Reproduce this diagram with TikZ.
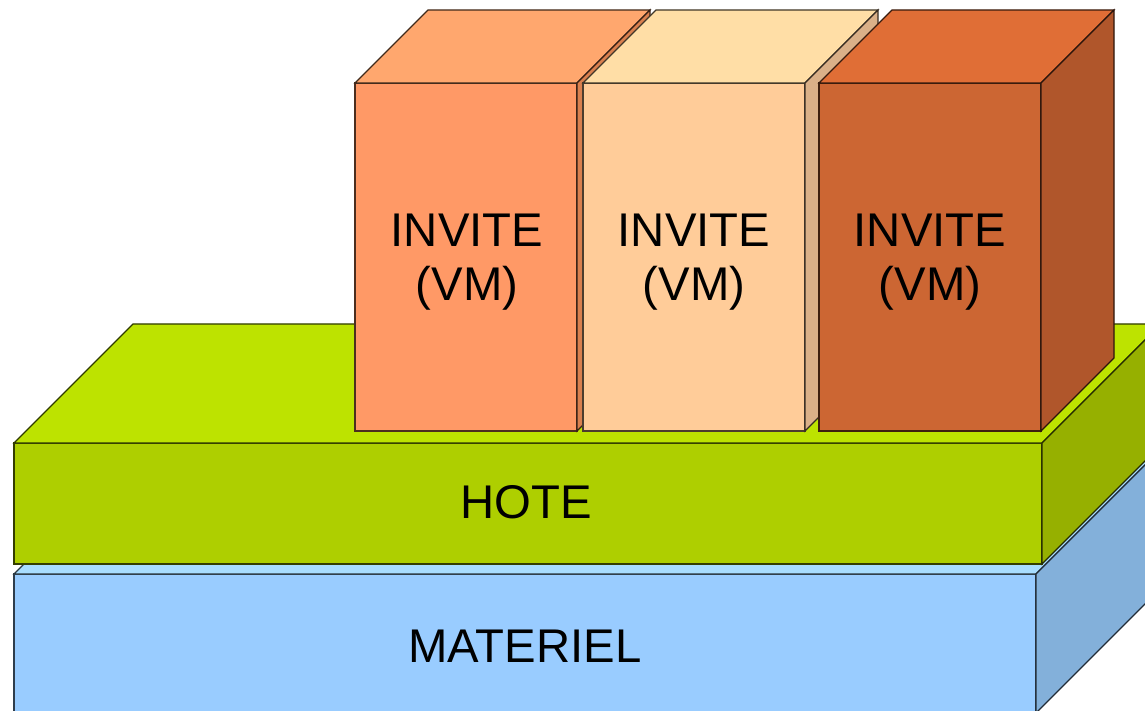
\documentclass[tikz,border=0pt]{standalone}
\usepackage{fontspec}
\setmainfont{Liberation Sans}
\definecolor{vmAfront}{HTML}{FF9966}
\definecolor{vmAtop}{HTML}{FFA76E}
\definecolor{vmAside}{HTML}{D9804F}
\definecolor{vmBfront}{HTML}{FFCC99}
\definecolor{vmBtop}{HTML}{FFDEA6}
\definecolor{vmBside}{HTML}{DAB088}
\definecolor{vmCfront}{HTML}{CC6633}
\definecolor{vmCtop}{HTML}{E06E36}
\definecolor{vmCside}{HTML}{B0562B}
\definecolor{hfront}{HTML}{AECF00}
\definecolor{htop}{HTML}{BDE300}
\definecolor{hside}{HTML}{96B000}
\definecolor{mfront}{HTML}{99CCFF}
\definecolor{mtop}{HTML}{A8DDFF}
\definecolor{mside}{HTML}{83B0DA}
\tikzset{
  face/.style={line width=1.2pt, line join=miter},
  lbl/.style={font=\fontsize{47.3}{54}\selectfont, inner sep=0pt, anchor=base, text=black}
}
% #1 x, #2 y (bottom), #3 width, #4 height, #5 depth, #6 front, #7 top, #8 side
\newcommand\drawcube[8]{%
  \draw[face, fill=#6, draw=#6!30!black] (#1,#2) rectangle ({#1+#3},{#2+#4});
  \draw[face, fill=#7, draw=#7!25!black] (#1,{#2+#4}) -- ({#1+#5},{#2+#4+#5}) -- ({#1+#3+#5},{#2+#4+#5}) -- ({#1+#3},{#2+#4}) -- cycle;
  \draw[face, fill=#8, draw=#8!25!black] ({#1+#3},#2) -- ({#1+#3+#5},{#2+#5}) -- ({#1+#3+#5},{#2+#4+#5}) -- ({#1+#3},{#2+#4}) -- cycle;
}
\begin{document}
\begin{tikzpicture}[x=1pt,y=1pt]
\useasboundingbox (0,0) rectangle (1145,710);
\clip (0,0) rectangle (1145,710);
% MATERIEL
\drawcube{14}{-3}{1022}{139}{119}{mfront}{mtop}{mside}
% HOTE
\drawcube{14}{146}{1028}{121}{119}{hfront}{htop}{hside}
% VMs
\drawcube{355}{279}{222}{348}{73}{vmAfront}{vmAtop}{vmAside}
\drawcube{583}{279}{222}{348}{73}{vmBfront}{vmBtop}{vmBside}
\drawcube{819}{279}{222}{348}{73}{vmCfront}{vmCtop}{vmCside}
% labels
\node[lbl] (vmAa) at (467,463) {INVITE};
\node[lbl] (vmAb) at (467,409) {(VM)};
\node[lbl] (vmBa) at (694,463) {INVITE};
\node[lbl] (vmBb) at (694,409) {(VM)};
\node[lbl] (vmCa) at (930,463) {INVITE};
\node[lbl] (vmCb) at (930,409) {(VM)};
\node[lbl] (hote) at (526,192) {HOTE};
\node[lbl] (mat) at (525,48) {MATERIEL};
\end{tikzpicture}
\end{document}
